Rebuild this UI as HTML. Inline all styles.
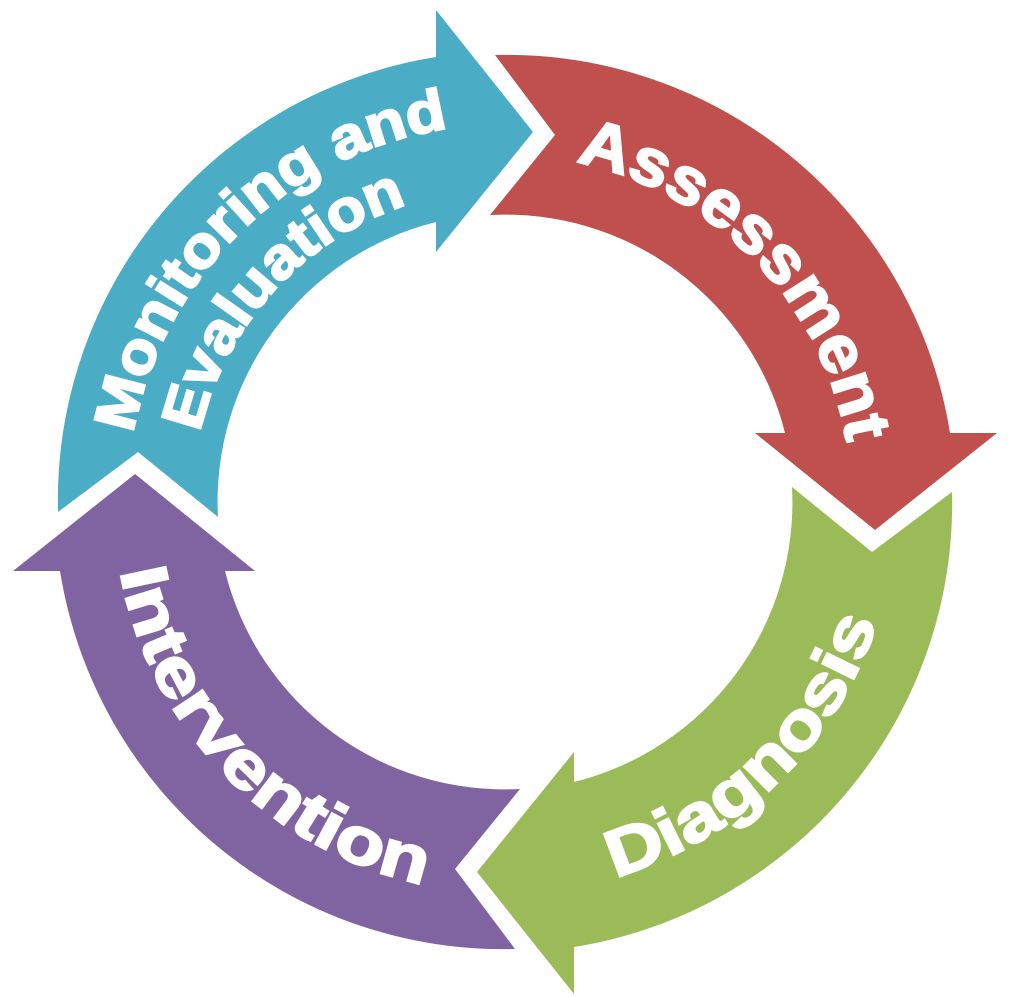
<!DOCTYPE html>
<html>
<head>
<meta charset="utf-8">
<style>
  html, body { margin: 0; padding: 0; background: #fff; }
  svg { display: block; }
  text { font-family: "Liberation Sans", "DejaVu Sans", sans-serif; font-weight: bold; fill: #fff; stroke: #fff; stroke-width: 2.2; }
</style>
</head>
<body>
<svg width="1024" height="997" viewBox="0 0 1024 997" xmlns="http://www.w3.org/2000/svg">
  <defs>
    <path id="arrow" d="M495,55 A449,449 0 0,1 950,433 L997,433 L875,530 L755,433 L785,433 A288,288 0 0,0 490,215 L555,135 Z"/>
    <path id="pRed" d="M505,155 A347,347 0 0,1 851.8,514"/>
    <path id="pGreen" d="M539.1,891.5 A391,391 0 0,0 894.5,536.1"/>
    <path id="pPurple" d="M114,502 A391,391 0 0,0 505,893"/>
    <path id="pBlue1" d="M127,502 A378,378 0 0,1 505,124"/>
    <path id="pBlue2" d="M192,502 A313,313 0 0,1 505,189"/>
  </defs>

  <use href="#arrow" fill="#C0504D"/>
  <use href="#arrow" fill="#9BBB59" transform="rotate(90 505 502)"/>
  <use href="#arrow" fill="#8064A2" transform="rotate(180 505 502)"/>
  <use href="#arrow" fill="#4BACC6" transform="rotate(270 505 502)"/>

  <text font-size="66"><textPath href="#pRed" startOffset="50%" text-anchor="middle" textLength="414" lengthAdjust="spacingAndGlyphs">Assessment</textPath></text>
  <text font-size="66"><textPath href="#pGreen" startOffset="49%" text-anchor="middle" textLength="380" lengthAdjust="spacingAndGlyphs">Diagnosis</textPath></text>
  <text font-size="66"><textPath href="#pPurple" startOffset="49%" text-anchor="middle" textLength="462" lengthAdjust="spacingAndGlyphs">Intervention</textPath></text>
  <text font-size="58"><textPath href="#pBlue1" startOffset="51%" text-anchor="middle" textLength="468" lengthAdjust="spacingAndGlyphs">Monitoring and</textPath></text>
  <text font-size="58"><textPath href="#pBlue2" startOffset="47%" text-anchor="middle" textLength="322" lengthAdjust="spacingAndGlyphs">Evaluation</textPath></text>
</svg>
</body>
</html>
